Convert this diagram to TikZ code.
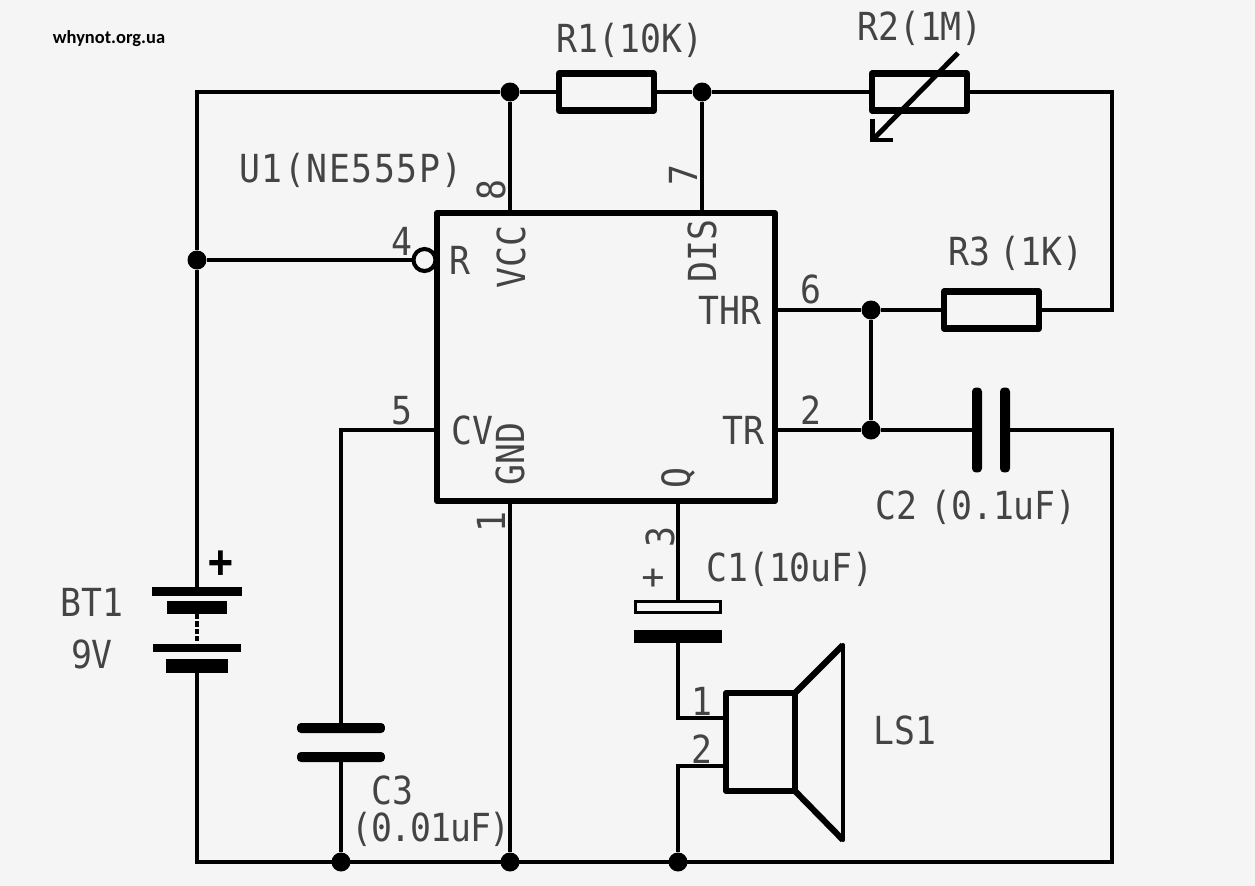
\documentclass[tikz,border=0pt]{standalone}
\usepackage{fontspec}
\setmainfont[FakeStretch=0.9]{DejaVu Sans Mono}
\newfontfamily\siteface{Carlito}
\newfontfamily\wideface[FakeStretch=0.9,LetterSpace=4]{DejaVu Sans Mono}
\newfontfamily\tightface[FakeStretch=0.9,LetterSpace=-3]{DejaVu Sans Mono}
\definecolor{pagegray}{HTML}{F5F5F5}
\definecolor{textgray}{HTML}{444444}
\tikzset{
	wire/.style={line width=2.3pt, line join=miter},
	heavy/.style={line width=3.5pt, line join=round},
	junction/.style={circle, fill, inner sep=0pt, minimum size=0.38cm},
	resbox/.style={draw, heavy, inner sep=0pt, outer sep=0pt, minimum width=1.9cm, minimum height=0.74cm},
	plate/.style={fill, rounded corners=0.08cm, inner sep=0pt, outer sep=0pt},
	cell/.style={fill, inner sep=0pt, outer sep=0pt},
	lbl/.style={text=textgray, font=\fontsize{22}{22}\selectfont, inner sep=0pt},
	lblup/.style={lbl, rotate=90}
}
\begin{document}
\begin{tikzpicture}[x=0.02cm, y=-0.02cm]
		\fill[pagegray] (0,0) rectangle (1255,886);
		\useasboundingbox (0,0) rectangle (1255,886);
		%junctions and corners
		\node (topvcc) at (510,92) [junction]{};
		\node (topdis) at (702,92) [junction]{};
		\node (leftrst) at (197,260) [junction]{};
		\node (thrdot) at (871,310) [junction]{};
		\node (trdot) at (871,430) [junction]{};
		\node (botc3) at (341,862) [junction]{};
		\node (botgnd) at (510,862) [junction]{};
		\node (botls) at (678,862) [junction]{};
		\coordinate (lefttop) at (197,92);
		\coordinate (leftbot) at (197,862);
		\coordinate (righttop) at (1112,92);
		\coordinate (rightmid) at (1112,310);
		\coordinate (rightcap) at (1112,430);
		\coordinate (rightbot) at (1112,862);
		\coordinate (pincv) at (341,430);
		
		%555 timer
		\node (ic) at (606,357) [draw, heavy, inner sep=0pt, outer sep=0pt, minimum width=6.76cm, minimum height=5.76cm]{};
		\node (rstbub) at (424.5,260) [circle, draw, wire, fill=pagegray, inner sep=0pt, outer sep=0pt, minimum size=0.44cm]{};
		
		%resistors
		\node (rone) at (606.5,92) [resbox]{};
		\node (rtwo) at (919.5,92) [resbox]{};
		\node (rthree) at (991.5,310) [resbox]{};
		
		%capacitors
		\node (ctwoa) at (977,430) [plate, minimum width=0.2cm, minimum height=1.7cm]{};
		\node (ctwob) at (1005,430) [plate, minimum width=0.2cm, minimum height=1.7cm]{};
		\node (cthreea) at (341,728) [plate, minimum width=1.76cm, minimum height=0.2cm]{};
		\node (cthreeb) at (341,757) [plate, minimum width=1.76cm, minimum height=0.2cm]{};
		\node (conea) at (678,607) [draw, line width=1.8pt, fill=pagegray, inner sep=0pt, outer sep=0pt, minimum width=1.7cm, minimum height=0.22cm]{};
		\node (coneb) at (678,636.5) [cell, minimum width=1.78cm, minimum height=0.27cm]{};
		
		%battery
		\node (bata) at (197,591) [cell, minimum width=1.8cm, minimum height=0.18cm]{};
		\node (batb) at (197,607.5) [cell, minimum width=1.22cm, minimum height=0.26cm]{};
		\node (batc) at (197,648) [cell, minimum width=1.78cm, minimum height=0.16cm]{};
		\node (batd) at (197,665.5) [cell, minimum width=1.24cm, minimum height=0.28cm]{};
		
		%speaker
		\node (lsbox) at (760.5,742) [draw, heavy, inner sep=0pt, outer sep=0pt, minimum width=1.38cm, minimum height=1.96cm]{};
		\coordinate (lspina) at (726,718);
		\coordinate (lspinb) at (726,766);
		\coordinate (conetop) at (843,645);
		\coordinate (conebot) at (843,840);
		\draw[heavy] (lsbox.north east) -- (conetop);
		\draw[heavy] (lsbox.south east) -- (conebot);
		\draw[wire, line cap=round] (conetop) -- (conebot);
		
		%wires
		\draw[wire] (topvcc) -- (lefttop) -- (leftrst);
		\draw[wire] (topvcc) -- (rone);
		\draw[wire] (rone) -- (topdis) -- (rtwo);
		\draw[wire] (rtwo) -- (righttop) -- (rightmid) -- (rthree);
		\draw[wire] (rthree) -- (thrdot) -- (thrdot -| ic.east);
		\draw[wire] (topvcc) -- (topvcc |- ic.north);
		\draw[wire] (topdis) -- (topdis |- ic.north);
		\draw[wire] (leftrst) -- (rstbub);
		\draw[wire] (leftrst) -- (bata);
		\draw[wire] (batd) -- (leftbot) -- (rightbot) -- (rightcap) -- (ctwob);
		\draw[wire] (ctwoa) -- (trdot) -- (trdot -| ic.east);
		\draw[wire] (thrdot) -- (trdot);
		\draw[wire] (pincv -| ic.west) -- (pincv) -- (cthreea);
		\draw[wire] (cthreeb) -- (botc3);
		\draw[wire] (botgnd) -- (botgnd |- ic.south);
		\draw[wire] (conea.north -| coneb) -- (coneb |- ic.south);
		\draw[wire] (coneb) |- (lspina);
		\draw[wire] (botls) |- (lspinb);
		\draw[line width=2pt, dash pattern=on 3pt off 1.2pt] (batb.south) -- (batc.north);
		
		%variable resistor arrow
		\coordinate (arrowtail) at (958,53);
		\coordinate (arrowtip) at (872.5,140);
		\draw[line width=2.8pt] (arrowtail) -- (arrowtip);
		\draw[line width=2.8pt] (872.5,119) -- (arrowtip) -- (893,140);
		
		%labels
		\node (lblsite) at (109,39) [font=\siteface\bfseries\fontsize{10.5}{10.5}\selectfont, inner sep=0pt]{whynot.org.ua};
		\node (lblrone) at (630,40) [lbl]{R1(10K)};
		\node (lblrtwo) at (920,28) [lbl]{R2(1M)};
		\node (lblrthree) at (1016,253) [lbl]{R3\hspace{-0.3em} (1K)};
		\node (lblic) at (351,170) [lbl]{\wideface U1(NE555P)};
		\node (lblcone) at (790,569) [lbl]{C1(10uF)};
		\node (lblctwo) at (976,507) [lbl]{C2\hspace{-0.2em} (0.1uF)};
		\node (lblcthree) at (392,790) [lbl]{C3};
		\node (lblcval) at (431,829) [lbl]{\tightface (0.01uF)};
		\node (lblbat) at (92,602) [lbl]{BT1};
		\node (lblvolt) at (92,654) [lbl]{9V};
		\node (lblls) at (905,730) [lbl]{LS1};
		\node (lblplus) at (221,564) [lbl, text=black, font=\bfseries\fontsize{26}{26}\selectfont]{+};
		\node (lblconeplus) at (654,578) [lblup]{+};
		\node (lblr) at (460,260) [lbl]{R};
		\node (lblcv) at (472,430) [lbl]{CV};
		\node (lblthr) at (730,310) [lbl]{THR};
		\node (lbltr) at (743,430) [lbl]{TR};
		\node (lblvcc) at (511,257) [lblup]{VCC};
		\node (lbldis) at (702,251) [lblup]{DIS};
		\node (lblgnd) at (510,454) [lblup]{GND};
		\node (lblq) at (678,478) [lblup]{Q};
		\node (pinfour) at (402,241) [lbl]{4};
		\node (pinfive) at (402,411) [lbl]{5};
		\node (pinsix) at (811,289) [lbl]{6};
		\node (pintwo) at (811,410) [lbl]{2};
		\node (pineight) at (491,190) [lblup]{8};
		\node (pinseven) at (683,175) [lblup]{7};
		\node (pinone) at (491,522) [lblup]{1};
		\node (pinthree) at (660,537) [lblup]{3};
		\node (lspinone) at (702,701) [lbl]{1};
		\node (lspintwo) at (702,749) [lbl]{2};
		\end{tikzpicture}
\end{document}
